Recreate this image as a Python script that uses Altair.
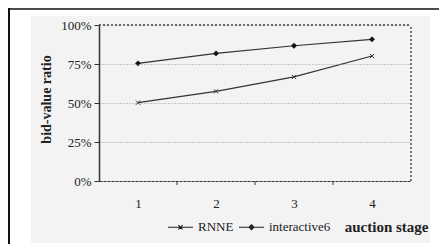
import altair as alt
import pandas as pd

stages = [1, 2, 3, 4]
series = ["RNNE", "interactive6"]
rnne = [50.2, 57.5, 66.7, 80.1]
interactive6 = [75.4, 81.8, 86.7, 90.8]
y_ticks = [0, 25, 50, 75, 100]
boundaries = [1.5, 2.5, 3.5]
x_domain = [0.5, 4.5]
y_domain = [0, 100]

rows = []
for s, vals in zip(series, [rnne, interactive6]):
    for st, v in zip(stages, vals):
        rows.append({"stage": st, "value": v, "series": s})
df = pd.DataFrame(rows)

FONT = "Liberation Serif"
INK = "#222222"

xs = alt.Scale(domain=x_domain, nice=False, zero=False)
ys = alt.Scale(domain=y_domain, nice=False)

x_axis = alt.Axis(
    values=stages, format="d", ticks=False, labelPadding=16,
    labelFont=FONT, labelFontSize=13, labelColor=INK,
    domainColor="#333", domainDash=[3, 1], domainWidth=1.2,
    grid=False, zindex=1,
    title="auction stage", titleFont=FONT, titleFontSize=15,
    titleFontWeight="bold", titleColor=INK, titleAlign="right",
    titleX=329, titleY=45, titleBaseline="middle", titleAngle=0,
)
y_axis = alt.Axis(
    values=y_ticks, labelExpr="datum.value + '%'",
    labelFont=FONT, labelFontSize=13, labelColor=INK, labelPadding=3,
    tickSize=5, tickColor="#333", domainColor="#333", domainWidth=1.5,
    grid=True, gridColor="#999", gridDash=[1, 2], gridWidth=1,
    zindex=1,
    title="bid-value ratio", titleFont=FONT, titleFontSize=14,
    titleFontWeight="bold", titleColor=INK, titleX=-53, titleY=74,
    titleAngle=270, titleBaseline="middle",
)

one = alt.Data(values=[{"a": 1}])

bg = alt.Chart(one).mark_rect(color="#f3f3f3").encode(
    x=alt.value(-68), x2=alt.value(331), y=alt.value(-9), y2=alt.value(218)
)
frame_left = alt.Chart(one).mark_rule(color="#111", strokeWidth=2).encode(
    x=alt.value(-90), y=alt.value(-17), y2=alt.value(219)
)
frame_top = alt.Chart(one).mark_rule(color="#111", strokeWidth=1.5).encode(
    x=alt.value(-91), x2=alt.value(340), y=alt.value(-16)
)

base = alt.Chart(df)
lines = base.mark_line(color="#333", strokeWidth=1.2).encode(
    x=alt.X("stage:Q", scale=xs, axis=x_axis),
    y=alt.Y("value:Q", scale=ys, axis=y_axis),
    detail="series:N",
)

right_df = pd.DataFrame({"x": [x_domain[1]], "y0": [y_domain[0]], "y1": [y_domain[1]]})
right_border = alt.Chart(right_df).mark_rule(
    color="#333", strokeDash=[2, 2], strokeWidth=1.3
).encode(
    x=alt.X("x:Q", scale=xs, axis=x_axis),
    y=alt.Y("y0:Q", scale=ys, axis=y_axis),
    y2="y1:Q",
)
top_df = pd.DataFrame({"x0": [x_domain[0]], "x1": [x_domain[1]], "y": [y_domain[1]]})
top_border = alt.Chart(top_df).mark_rule(
    color="#333", strokeDash=[2, 2], strokeWidth=1.3
).encode(
    x=alt.X("x0:Q", scale=xs, axis=x_axis), x2="x1:Q",
    y=alt.Y("y:Q", scale=ys, axis=y_axis),
)

bdf = pd.DataFrame({"b": boundaries})
bticks = alt.Chart(bdf).mark_rule(color="#333", strokeWidth=1).encode(
    x=alt.X("b:Q", scale=xs, axis=x_axis), y=alt.value(156), y2=alt.value(160)
)

pts_i = base.transform_filter(alt.datum.series == "interactive6").mark_point(
    shape="diamond", filled=True, color="#111", size=35, opacity=1
).encode(x=alt.X("stage:Q", scale=xs, axis=x_axis),
         y=alt.Y("value:Q", scale=ys, axis=y_axis))
pts_r = base.transform_filter(alt.datum.series == "RNNE").mark_point(
    shape="M-1,-1L1,1M-1,1L1,-1", filled=False, color="#333", size=18,
    strokeWidth=1, opacity=1
).encode(x=alt.X("stage:Q", scale=xs, axis=x_axis),
         y=alt.Y("value:Q", scale=ys, axis=y_axis))

p_rnne = "M-1,0H1M-0.17,-0.17L0.17,0.17M-0.17,0.17L0.17,-0.17"
p_int = ("M-1,0H1M0,-0.2L0.2,0L0,0.2L-0.2,0Z"
         "M0,-0.12L0.12,0L0,0.12L-0.12,0Z")
legend_layer = base.mark_point(
    filled=False, opacity=0, color="#222", size=625, strokeWidth=1
).encode(
    x=alt.X("stage:Q", scale=xs, axis=x_axis),
    y=alt.Y("value:Q", scale=ys, axis=y_axis),
    shape=alt.Shape(
        "series:N",
        scale=alt.Scale(domain=series, range=[p_rnne, p_int]),
        legend=alt.Legend(
            orient="none", legendX=68, legendY=188.5, direction="horizontal",
            title=None, symbolSize=625, symbolStrokeWidth=1.1,
            symbolFillColor="#111", symbolStrokeColor="#222",
            symbolOpacity=1, labelFont=FONT, labelFontSize=13,
            labelColor=INK, labelOffset=4, columnPadding=2, padding=0,
        ),
    ),
)

chart = alt.layer(
    bg, frame_left, frame_top, lines, top_border, right_border, bticks,
    pts_r, pts_i, legend_layer,
).properties(
    width=312, height=156,
    autosize=alt.AutoSizeParams(type="none"),
    padding={"left": 91, "top": 17, "right": 28, "bottom": 63},
).configure_view(stroke=None).configure(background="white")

chart.save("out.html", embed_options={"renderer": "svg", "actions": False})
